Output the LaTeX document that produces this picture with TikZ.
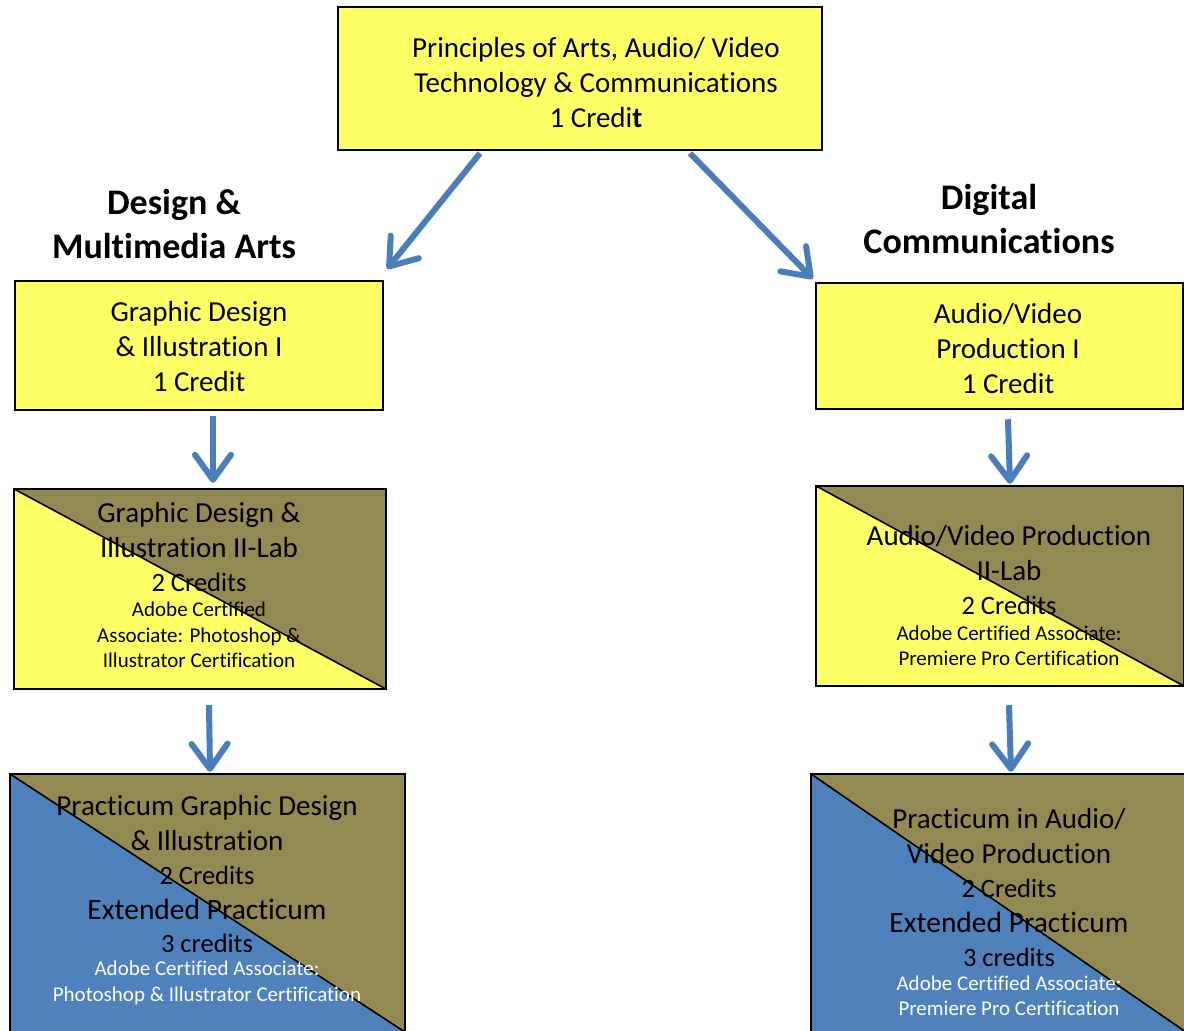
\documentclass[tikz,border=0pt]{standalone}
\usepackage{fontspec}
\setmainfont[Ligatures = NoCommon]{Carlito}
\usepackage{xcolor}
\usetikzlibrary{calc, arrows.meta, positioning}
\definecolor{boxYellow}{HTML}{FFFF66}
\definecolor{boxOlive}{HTML}{938953}
\definecolor{boxBlue}{HTML}{4F81BD}
\definecolor{flowBlue}{HTML}{4A7EBB}
\newcommand{\splitBox}[2]{%
	\fill[#2] (#1.north west) |- (#1.south east) -- cycle;
	\fill[boxOlive] (#1.north west) -| (#1.south east) -- cycle;
	\draw[line width=1.6pt] (#1.north west) -- (#1.south east);
	\draw[line width=2.5pt] (#1.north west) rectangle (#1.south east);
}
\newcommand{\credLine}[1]{{\fontsize{26.5}{34.5}\selectfont #1}}

\begin{document}
\begin{tikzpicture}[x = 1pt, y = -1pt,
		frame/.style = {inner sep = 0pt},
		plainbox/.style = {frame, draw, line width = 2.5pt, fill = boxYellow},
		bigtxt/.style = {align = center, inner sep = 0pt, font = \fontsize{29}{35}\selectfont},
		smalltxt/.style = {align = center, inner sep = 0pt, font = \fontsize{21}{25.5}\selectfont},
		headtxt/.style = {align = center, inner sep = 0pt, font = \fontsize{36}{44}\selectfont\bfseries},
		flow/.style = {draw = flowBlue, line width = 6pt, -{Straight Barb[round, length = 25pt, width = 36pt]}}]
			\def\pageW{1184};
			\def\pageH{1031};

			\path[use as bounding box, fill = white] (0,0) rectangle (\pageW,\pageH);

			\begin{scope}
				\node[plainbox, minimum width = 484, minimum height = 143] (principles) at (580,78.5) {};
				\node[plainbox, minimum width = 368, minimum height = 129] (gdOne) at (199,345.5) {};
				\node[plainbox, minimum width = 367, minimum height = 126] (avOne) at (999.5,346) {};
			\end{scope}

			\begin{scope}
				\node[frame, minimum width = 372, minimum height = 200] (gdTwo) at (200,589) {};
				\node[frame, minimum width = 368, minimum height = 200] (avTwo) at (1000,586) {};
				\node[frame, minimum width = 395, minimum height = 258] (gdPrac) at (207.5,903) {};
				\node[frame, minimum width = 375, minimum height = 258] (avPrac) at (998.5,903) {};
				\splitBox{gdTwo}{boxYellow}
				\splitBox{avTwo}{boxYellow}
				\splitBox{gdPrac}{boxBlue}
				\splitBox{avPrac}{boxBlue}
			\end{scope}

			\node[bigtxt] (principlesText) at (596,83) {Principles of Arts, Audio/ Video\\Technology \& Communications\\1 Credi\textbf{t}};
			\node[headtxt] (designHead) at (174,224) {Design \&\\Multimedia Arts};
			\node[headtxt] (digitalHead) at (989,219) {Digital\\Communications};

			\node[bigtxt] (gdOneText) at (199,347) {Graphic Design\\\& Illustration I\\1 Credit};
			\node[bigtxt] (avOneText) at (1008,349) {Audio/Video\\Production I\\1 Credit};

			\node[bigtxt, font = \fontsize{29}{34.5}\selectfont] (gdTwoText) at (199,547.5) {Graphic Design \&\\Illustration II-Lab\\\credLine{2 Credits}};
			\node[smalltxt] (gdTwoNote) at (199,635) {Adobe Certified\\Associate: Photoshop \&\\Illustrator Certification};
			\node[bigtxt, font = \fontsize{29}{34.5}\selectfont] (avTwoText) at (1009,570.5) {Audio/Video Production\\II-Lab\\\credLine{2 Credits}};
			\node[smalltxt] (avTwoNote) at (1009,646) {Adobe Certified Associate:\\Premiere Pro Certification};

			\node[bigtxt, font = \fontsize{29}{34.5}\selectfont] (gdPracText) at (207,840.5) {Practicum Graphic Design\\\& Illustration\\\credLine{2 Credits}};
			\node[bigtxt, font = \fontsize{29.5}{33}\selectfont] (gdPracExt) at (207,925.5) {Extended Practicum\\\credLine{3 credits}};
			\node[smalltxt, text = white] (gdPracNote) at (207,983) {Adobe Certified Associate:\\Photoshop \& Illustrator Certification};
			\node[bigtxt, font = \fontsize{29}{34.5}\selectfont] (avPracText) at (1009,853.5) {Practicum in Audio/\\Video Production\\\credLine{2 Credits}};
			\node[bigtxt, font = \fontsize{29.5}{34}\selectfont] (avPracExt) at (1009,939) {Extended Practicum\\\credLine{3 credits}};
			\node[smalltxt, text = white] (avPracNote) at (1009,996) {Adobe Certified Associate:\\Premiere Pro Certification};

			\begin{scope}[flow]
				\draw ([shift = {(-100,2)}]principles.south) -- ([shift = {(3,-11)}]gdOne.north east);
				\draw ([shift = {(110,2)}]principles.south) -- ([shift = {(-2,-3)}]avOne.north west);
				\draw ([shift = {(14,5)}]gdOne.south) -- ([shift = {(13,-6)}]gdTwo.north);
				\draw ([shift = {(8.5,9)}]avOne.south) -- ([shift = {(10,-2)}]avTwo.north);
				\draw ([shift = {(9,16)}]gdTwo.south) -- ([shift = {(2.5,-2)}]gdPrac.north);
				\draw ([shift = {(9,19)}]avTwo.south) -- ([shift = {(12.5,-2)}]avPrac.north);
			\end{scope}
		\end{tikzpicture}
\end{document}
